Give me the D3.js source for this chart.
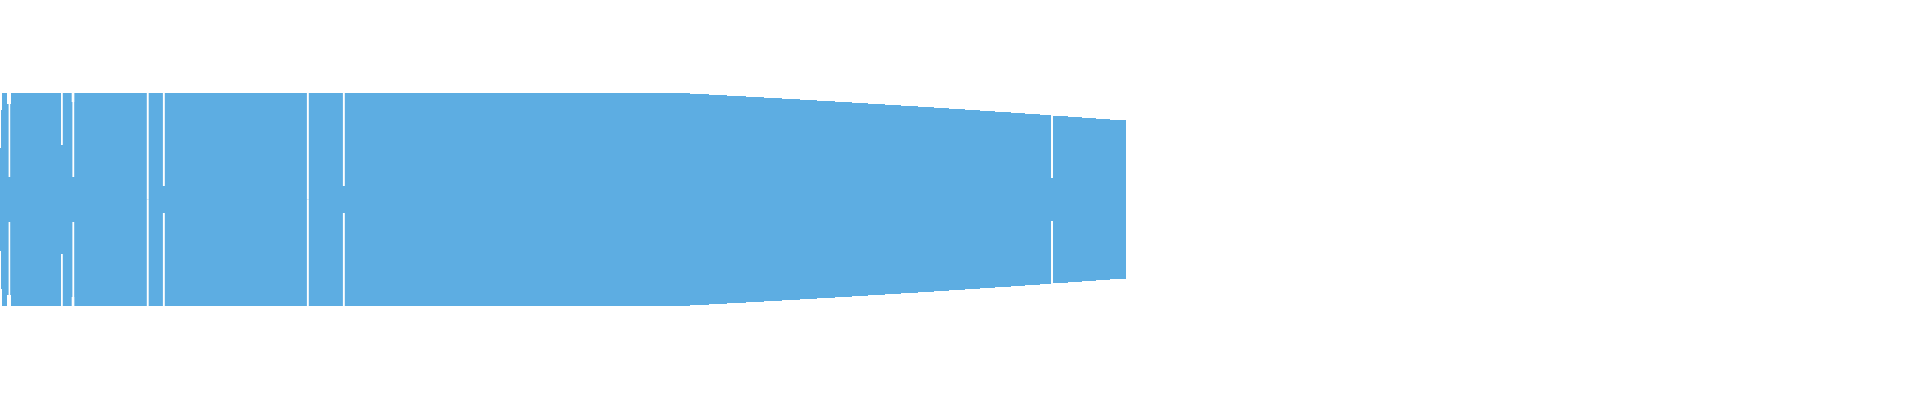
<!doctype html>
<html>
<head>
  <meta charset="utf-8"/>
  <title>Band</title>
  <script src="https://cdnjs.cloudflare.com/ajax/libs/d3/7.8.5/d3.min.js"></script>
  <style>
    body { margin: 0; background: #fff; }
    svg { display: block; }
  </style>
</head>
<body>
<script>
// step positions along x and band thickness from each step on
const stepX = [0, 1, 2, 690, 709, 727, 746, 764, 782, 800, 817, 835, 852, 868, 885, 901,
               918, 934, 949, 965, 980, 995, 1011, 1025, 1040, 1053, 1068, 1082, 1096, 1110, 1126];
const thickness = [103, 179, 213, 211, 209, 207, 205, 203, 201, 199, 197, 195, 193, 191, 189, 187,
                   185, 183, 181, 179, 177, 175, 173, 171, 169, 167, 165, 163, 161, 159, 159];

// white breaks: start, end, and half of the filled middle they leave (0 = full break)
const breakStart = [8.6, 7, 61, 72.4, 71.7, 146.8, 162.9, 306.9, 342.9, 1051];
const breakEnd   = [10.2, 11, 62.8, 74.2, 74.2, 148.7, 164.8, 308.8, 344.8, 1053];
const breakInner = [22.5, 95.5, 54.5, 22.5, 97.5, 0, 13.5, 0, 13.5, 21.5];

const width = 1920, height = 400;

const svg = d3.select('body').append('svg').attr('width', width).attr('height', height);

const x = d3.scaleLinear().domain([0, 1920]).range([0, width]);
const y = d3.scaleLinear().domain([-100, 100]).range([299.5, 99.5]);

const band = stepX.map((d, i) => ({ x: d, v: thickness[i] }));

// value at a given x (for break extents)
function valueAt(px) {
  let v = thickness[0];
  for (let i = 0; i < stepX.length; i++) {
    if (stepX[i] <= px) v = thickness[i];
  }
  return v;
}

const area = d3.area()
  .curve(d3.curveStepAfter)
  .x(d => x(d.x))
  .y0(d => y(-d.v / 2))
  .y1(d => y(d.v / 2));

svg.append('path')
  .datum(band)
  .attr('fill', '#5DADE2')
  .attr('d', area);

const breaks = breakStart.map((d, i) => ({ x0: d, x1: breakEnd[i], inner: breakInner[i] }));

// upper and lower part of each break
breaks.forEach(b => {
  const outer = valueAt(b.x0) / 2 + 1;
  [1, -1].forEach(s => {
    const a = y(s * outer), c = y(s * b.inner);
    svg.append('rect')
      .attr('x', x(b.x0))
      .attr('width', x(b.x1) - x(b.x0))
      .attr('y', Math.min(a, c))
      .attr('height', Math.abs(a - c))
      .attr('fill', '#fff');
  });
});
</script>
</body>
</html>
